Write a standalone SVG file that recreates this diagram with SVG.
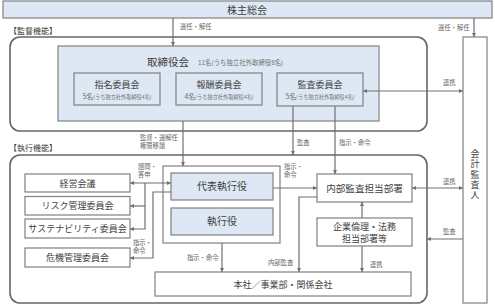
<svg xmlns="http://www.w3.org/2000/svg" width="495" height="306" viewBox="0 0 495 306">
<defs>
<marker id="ah" viewBox="0 0 6 6" refX="6" refY="3" markerWidth="3.6" markerHeight="3.6" orient="auto-start-reverse"><path d="M0,0 L6,3 L0,6 z" fill="#707070"/></marker>
<style>
text{font-family:"Noto Sans CJK JP","Noto Sans CJK SC",sans-serif;fill:#404040}
.box{fill:#fff;stroke:#808080;stroke-width:1.2}
.blue{fill:#dde8f4;stroke:#808080;stroke-width:1.2}
.frame{fill:none;stroke:#666;stroke-width:1.6}
.c{text-anchor:middle}
.lb{font-size:6.3px;fill:#666}
.sec{font-size:8px;fill:#404040}
.t9{font-size:9px}
.t10{font-size:10px}
.sub{font-size:5.2px;fill:#707070}
.con path{fill:none;stroke:#707070;stroke-width:1.2}
</style>
</defs>
<rect width="495" height="306" fill="#fff"/>

<g id="kabunushi"><rect class="blue" x="3" y="1" width="489" height="17"/><text class="t10 c" x="247" y="13.5">株主総会</text></g>

<text class="sec" x="9" y="34">【監督機能】</text>
<rect id="kantoku-frame" class="frame" x="10" y="37" width="417" height="94" rx="10"/>
<text class="sec" x="9" y="151">【執行機能】</text>
<rect id="shikko-frame" class="frame" x="10" y="155" width="417" height="148" rx="10"/>

<g id="torishimariyakukai"><rect class="blue" x="58" y="46" width="321" height="75"/>
<text class="c" style="font-size:10.5px" x="168" y="65.5">取締役会</text>
<text x="198" y="65" style="font-size:6.4px;fill:#707070">11名(うち独立社外取締役8名)</text></g>

<g id="shimei"><rect class="blue" x="74" y="73" width="86" height="32"/><text class="t9 c" x="117" y="88">指名委員会</text><text class="sub c" x="117" y="99"><tspan style="font-size:7px">5名</tspan>(うち独立社外取締役4名)</text></g>
<g id="hoshu"><rect class="blue" x="176" y="73" width="86" height="32"/><text class="t9 c" x="219" y="88">報酬委員会</text><text class="sub c" x="219" y="99"><tspan style="font-size:7px">4名</tspan>(うち独立社外取締役4名)</text></g>
<g id="kansa"><rect class="blue" x="277" y="73" width="86" height="33"/><text class="t9 c" x="320" y="88">監査委員会</text><text class="sub c" x="320" y="99"><tspan style="font-size:7px">5名</tspan>(うち独立社外取締役4名)</text></g>

<g id="kaikei"><rect class="box" x="463" y="37" width="24" height="266"/>
<text class="t9" x="475" y="175" style="writing-mode:vertical-rl;text-anchor:middle;letter-spacing:1.3px">会計監査人</text></g>

<g id="keiei"><rect class="box" x="25" y="174" width="105" height="18"/><text class="t9 c" x="77.5" y="186.5">経営会議</text></g>
<g id="risk"><rect class="box" x="25" y="196.5" width="105" height="18.5"/><text class="t9 c" x="77.5" y="209">リスク管理委員会</text></g>
<g id="sustainability"><rect class="box" x="25" y="219" width="105" height="19"/><text class="t9 c" x="77.5" y="231.5">サステナビリティ委員会</text></g>
<g id="kiki"><rect class="box" x="25" y="248" width="105" height="19"/><text class="t9 c" x="77.5" y="260.5">危機管理委員会</text></g>

<g id="shikkoyaku-group"><rect class="box" x="163" y="166" width="117" height="77"/>
<g id="daihyo"><rect class="blue" x="171" y="173" width="102" height="27"/><text class="t10 c" x="222" y="190">代表執行役</text></g>
<g id="shikkoyaku"><rect class="blue" x="171" y="208" width="102" height="27"/><text class="t10 c" x="222" y="225">執行役</text></g></g>

<g id="naibukansa"><rect class="box" x="317" y="174" width="95" height="28"/><text class="c" style="font-size:9.6px" x="364.5" y="191.5">内部監査担当部署</text></g>
<g id="kigyorinri"><rect class="box" x="317" y="218" width="95" height="28"/><text class="t9 c" x="364.5" y="230">企業倫理・法務</text><text class="t9 c" x="364.5" y="242">担当部署等</text></g>
<g id="honsha"><rect class="box" x="155" y="272" width="256" height="24"/><text class="t9 c" x="283" y="287.5">本社／事業部・関係会社</text></g>

<g id="connectors" class="con">
<path d="M173,18 V46" marker-end="url(#ah)"/>
<path d="M474,18 V37" marker-end="url(#ah)"/>
<path d="M183,121 V166" marker-end="url(#ah)"/>
<path d="M293,106 V155" marker-end="url(#ah)"/>
<path d="M335,106 V174" marker-end="url(#ah)"/>
<path d="M363,91 H463" marker-start="url(#ah)" marker-end="url(#ah)"/>
<path d="M130,183 H171" marker-start="url(#ah)" marker-end="url(#ah)"/>
<path d="M145,183 V229 H130" marker-end="url(#ah)"/>
<path d="M145,206 H130" marker-end="url(#ah)"/>
<path d="M171,192 H153 V258 H130" marker-end="url(#ah)"/>
<path d="M273,188 H317" marker-end="url(#ah)"/>
<path d="M412,188 H463" marker-start="url(#ah)" marker-end="url(#ah)"/>
<path d="M362,218 V202" marker-end="url(#ah)"/>
<path d="M362,246 V272" marker-end="url(#ah)"/>
<path d="M317,197 H299 V272" marker-end="url(#ah)"/>
<path d="M222,243 V272" marker-end="url(#ah)"/>
<path d="M463,239 H427" marker-end="url(#ah)"/>
</g>

<g id="labels">
<text class="lb" x="180" y="29">選任・解任</text>
<text class="lb" x="438" y="30">選任・解任</text>
<text class="lb" x="443" y="85">連携</text>
<text class="lb" x="140" y="140">監督・選解任</text>
<text class="lb" x="140" y="148">権限移譲</text>
<text class="lb" x="297" y="145">監査</text>
<text class="lb" x="339" y="145">指示・命令</text>
<text class="lb" x="138" y="169">諮問・</text>
<text class="lb" x="138" y="177">答申</text>
<text class="lb" x="284" y="169">指示・</text>
<text class="lb" x="284" y="177">命令</text>
<text class="lb" x="443" y="184">連携</text>
<text class="lb" x="133" y="245">指示・</text>
<text class="lb" x="133" y="253">命令</text>
<text class="lb" x="443" y="234">監査</text>
<text class="lb" x="187" y="260">指示・命令</text>
<text class="lb" x="268" y="265">内部監査</text>
<text class="lb" x="370" y="267">連携</text>
</g>
</svg>
